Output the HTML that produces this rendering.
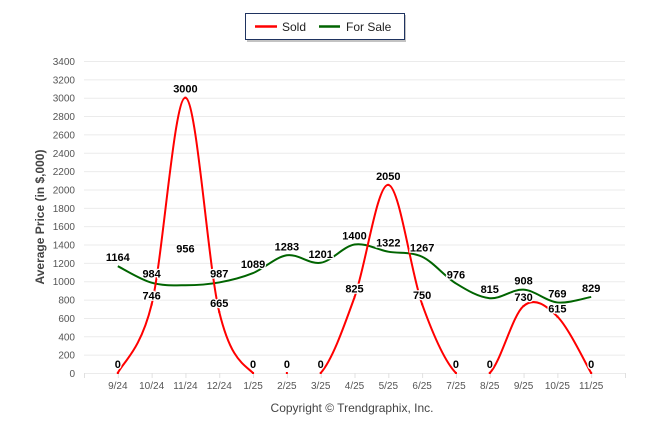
<!DOCTYPE html>
<html><head><meta charset="utf-8">
<style>
body{margin:0;background:#fff;width:646px;height:434px;overflow:hidden;font-family:"Liberation Sans",Arial,sans-serif}
</style></head>
<body>
<svg id="chart" width="646" height="434" xmlns="http://www.w3.org/2000/svg" style="position:absolute;left:0;top:0">
  <g>
    <rect x="247" y="15" width="159" height="27" fill="#888" opacity="0.5"/>
    <rect x="245.5" y="13.5" width="159" height="26" fill="#fff" stroke="#1f3360" stroke-width="1"/>
    <line x1="255" y1="26.5" x2="277" y2="26.5" stroke="#ff0000" stroke-width="2.5"/>
    <text x="282" y="31" font-size="12" fill="#222">Sold</text>
    <line x1="319" y1="26.5" x2="340" y2="26.5" stroke="#006400" stroke-width="2.5"/>
    <text x="346" y="31" font-size="12" fill="#222">For Sale</text>
  </g>
  <g id="grid"></g>
  <g id="axes"></g>
  <g id="series"></g>
  <g id="labels"></g>
  <text x="44" y="217" font-size="12" font-weight="bold" fill="#444" text-anchor="middle" transform="rotate(-90 44 217)">Average Price (in $,000)</text>
  <text x="352" y="412" font-size="12" fill="#444" text-anchor="middle">Copyright © Trendgraphix, Inc.</text>
</svg>
<script>
const categories = ["9/24","10/24","11/24","12/24","1/25","2/25","3/25","4/25","5/25","6/25","7/25","8/25","9/25","10/25","11/25"];
const soldValues = [0,746,3000,665,0,0,0,825,2050,750,0,0,730,615,0];
const forSaleValues = [1164,984,956,987,1089,1283,1201,1400,1322,1267,976,815,908,769,829];
const yTicks = [0,200,400,600,800,1000,1200,1400,1600,1800,2000,2200,2400,2600,2800,3000,3200,3400];
const soldLabelDy = [-5,-5,-5,-5,-5,-5,-5,-5,-5,-5,-5,-5,-5,-4,-5];
const forSaleLabelDy = [-5,-5,-33,-5,-5,-5,-5,-5,-5,-5,-5,-5,-5,-5,-5];

const NS="http://www.w3.org/2000/svg";
const X0=84, X1=625, Y0=373, Y1=61, YMAX=3400;
const step=(X1-X0)/16;
const x=i=>X0+step*(i+1);
const y=v=>Y0-(v/YMAX)*(Y0-Y1);
function mk(tag,attrs,parent){const e=document.createElementNS(NS,tag);for(const k in attrs)e.setAttribute(k,attrs[k]);parent.appendChild(e);return e;}
const grid=document.getElementById('grid'),axes=document.getElementById('axes'),series=document.getElementById('series'),labels=document.getElementById('labels');

yTicks.forEach(t=>{
  const l=mk('line',{x1:X0,x2:X1,y1:y(t)+0.5,y2:y(t)+0.5,stroke:'#ebebeb','stroke-width':1},grid);
  
  
  const tx=mk('text',{x:75,y:y(t)+4,'font-size':10,fill:'#555','text-anchor':'end'},axes);
  tx.textContent=t;
  
  
});
for(let i=0;i<=16;i++){
  const tk=mk('line',{x1:X0+step*i+0.5,x2:X0+step*i+0.5,y1:Y0,y2:Y0+5,stroke:'#e0e0e0'},axes);
  
  
}
categories.forEach((c,i)=>{
  const tx=mk('text',{x:x(i),y:389,'font-size':10,fill:'#555','text-anchor':'middle'},axes);
  tx.textContent=c;
  
  
});

function seg(vals,a,b){
  const p=i=>[x(Math.max(0,Math.min(vals.length-1,i))),y(vals[Math.max(0,Math.min(vals.length-1,i))])];
  const [p0,p1,p2,p3]=[p(a-1),p(a),p(b),p(b+1)];
  const c1=[p1[0]+(p2[0]-p0[0])/6,p1[1]+(p2[1]-p0[1])/6];
  const c2=[p2[0]-(p3[0]-p1[0])/6,p2[1]-(p3[1]-p1[1])/6];
  return ` C${c1[0]},${Math.min(Y0,c1[1])} ${c2[0]},${Math.min(Y0,c2[1])} ${p2[0]},${p2[1]}`;
}
function drawSeries(vals,color,name,skipZero){
  let d='';
  for(let i=0;i<vals.length-1;i++){
    if(skipZero && vals[i]===0 && vals[i+1]===0){continue;}
    d+=`M${x(i)},${y(vals[i])}`+seg(vals,i,i+1);
  }
  const path=mk('path',{d:d,fill:'none',stroke:color,'stroke-width':2},series);
  
  
}
drawSeries(forSaleValues,'#006400','for-sale',false);
drawSeries(soldValues,'#ff0000','sold',true);
soldValues.forEach((v,i)=>{
  const m=mk('rect',{x:x(i)-1,y:y(v)-1,width:2,height:2,fill:'#ff0000'},series);
  
  
});
function drawLabels(vals,dys,name){
  vals.forEach((v,i)=>{
    const t=mk('text',{x:x(i),y:y(v)+dys[i],'font-size':11,'font-weight':'bold',fill:'#000','text-anchor':'middle',stroke:'#fff','stroke-width':2.5,'paint-order':'stroke'},labels);
    t.textContent=v;
    
    
  });
}
drawLabels(forSaleValues,forSaleLabelDy,'for-sale');
drawLabels(soldValues,soldLabelDy,'sold');
</script>
</body></html>
